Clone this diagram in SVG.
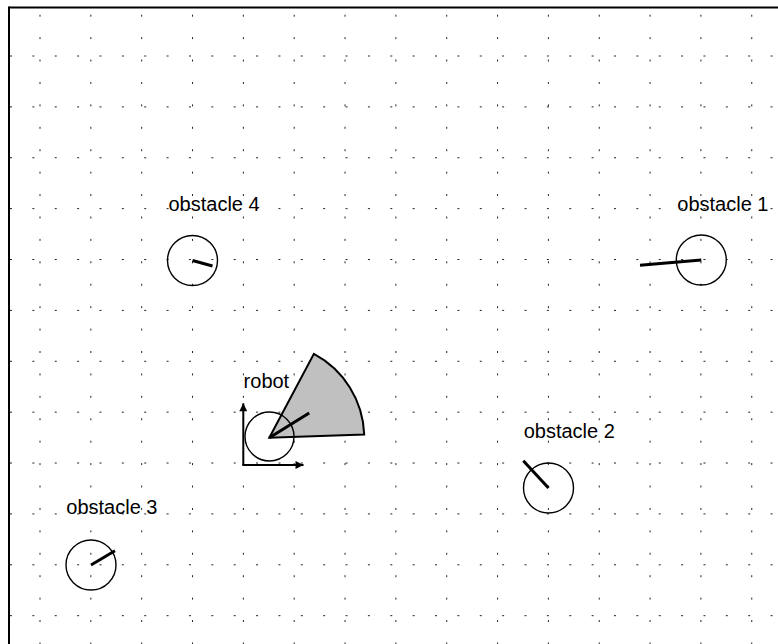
<svg xmlns="http://www.w3.org/2000/svg" width="778" height="644" viewBox="0 0 778 644">
<defs>
<style>
.vg{stroke:#222;stroke-width:1;stroke-dasharray:2 20.42;fill:none}
.hg{stroke:#222;stroke-width:1;stroke-dasharray:2 20.37;fill:none}
.obs{fill:none;stroke:#000;stroke-width:1.4}
.hd{stroke:#000;stroke-width:3;stroke-linecap:butt}
.lbl{font-family:"Liberation Sans",Arial,sans-serif;font-size:20px;fill:#000}
.ax{stroke:#000;stroke-width:2;fill:none}
</style>
<marker id="ah" viewBox="0 0 10 10" refX="10" refY="5" markerWidth="9" markerHeight="8" markerUnits="userSpaceOnUse" orient="auto">
<path d="M0,0 L10,5 L0,10 Z" fill="#000"/>
</marker>
</defs>
<rect width="778" height="644" fill="#fff"/>
<g id="grid">
<line class="vg" x1="40" y1="14.7" x2="40" y2="644"/>
<line class="vg" x1="90.84" y1="14.7" x2="90.84" y2="644"/>
<line class="vg" x1="141.68" y1="14.7" x2="141.68" y2="644"/>
<line class="vg" x1="192.52" y1="14.7" x2="192.52" y2="644"/>
<line class="vg" x1="243.36" y1="14.7" x2="243.36" y2="644"/>
<line class="vg" x1="294.2" y1="14.7" x2="294.2" y2="644"/>
<line class="vg" x1="345.04" y1="14.7" x2="345.04" y2="644"/>
<line class="vg" x1="395.88" y1="14.7" x2="395.88" y2="644"/>
<line class="vg" x1="446.72" y1="14.7" x2="446.72" y2="644"/>
<line class="vg" x1="497.56" y1="14.7" x2="497.56" y2="644"/>
<line class="vg" x1="548.4" y1="14.7" x2="548.4" y2="644"/>
<line class="vg" x1="599.24" y1="14.7" x2="599.24" y2="644"/>
<line class="vg" x1="650.08" y1="14.7" x2="650.08" y2="644"/>
<line class="vg" x1="700.92" y1="14.7" x2="700.92" y2="644"/>
<line class="vg" x1="751.76" y1="14.7" x2="751.76" y2="644"/>
<line class="hg" x1="10" y1="56" x2="778" y2="56"/>
<line class="hg" x1="10" y1="106.88" x2="778" y2="106.88"/>
<line class="hg" x1="10" y1="157.76" x2="778" y2="157.76"/>
<line class="hg" x1="10" y1="208.64" x2="778" y2="208.64"/>
<line class="hg" x1="10" y1="259.52" x2="778" y2="259.52"/>
<line class="hg" x1="10" y1="310.4" x2="778" y2="310.4"/>
<line class="hg" x1="10" y1="361.28" x2="778" y2="361.28"/>
<line class="hg" x1="10" y1="412.16" x2="778" y2="412.16"/>
<line class="hg" x1="10" y1="463.04" x2="778" y2="463.04"/>
<line class="hg" x1="10" y1="513.92" x2="778" y2="513.92"/>
<line class="hg" x1="10" y1="564.8" x2="778" y2="564.8"/>
<line class="hg" x1="10" y1="615.68" x2="778" y2="615.68"/>
</g>
<g id="frame">
<line x1="9" y1="7.5" x2="778" y2="7.5" stroke="#000" stroke-width="2"/>
<line x1="9" y1="6.5" x2="9" y2="644" stroke="#000" stroke-width="2"/>
</g>
<g id="obstacle4">
<circle class="obs" cx="192.5" cy="260.5" r="25"/>
<line class="hd" x1="192.5" y1="260.5" x2="212.5" y2="266"/>
<text class="lbl" x="168.5" y="210.7">obstacle 4</text>
</g>
<g id="obstacle1">
<circle class="obs" cx="701.3" cy="260" r="25"/>
<line class="hd" x1="701.3" y1="260" x2="640" y2="265.3"/>
<text class="lbl" x="677.3" y="210.7">obstacle 1</text>
</g>
<g id="obstacle2">
<circle class="obs" cx="548.5" cy="488" r="25"/>
<line class="hd" x1="548.5" y1="488" x2="523.3" y2="460.7"/>
<text class="lbl" x="523.7" y="438.3">obstacle 2</text>
</g>
<g id="obstacle3">
<circle class="obs" cx="91" cy="565" r="25"/>
<line class="hd" x1="91" y1="565" x2="115" y2="550.7"/>
<text class="lbl" x="66.3" y="514">obstacle 3</text>
</g>
<g id="robot">
<path d="M269.3,437.8 L313.9,353.9 A95,95 0 0 1 364.2,434.5 Z" fill="#c0c0c0" stroke="#000" stroke-width="2" stroke-linejoin="miter"/>
<circle class="obs" cx="269.5" cy="436.5" r="24.5"/>
<line class="hd" x1="269.3" y1="437.8" x2="309.2" y2="412.9"/>
<text class="lbl" x="243.6" y="388.3">robot</text>
</g>
<g id="connectors">
<line class="ax" x1="243.3" y1="465" x2="243.3" y2="403.3" marker-end="url(#ah)"/>
<line class="ax" x1="242.3" y1="465" x2="303.5" y2="465" marker-end="url(#ah)"/>
</g>
</svg>
